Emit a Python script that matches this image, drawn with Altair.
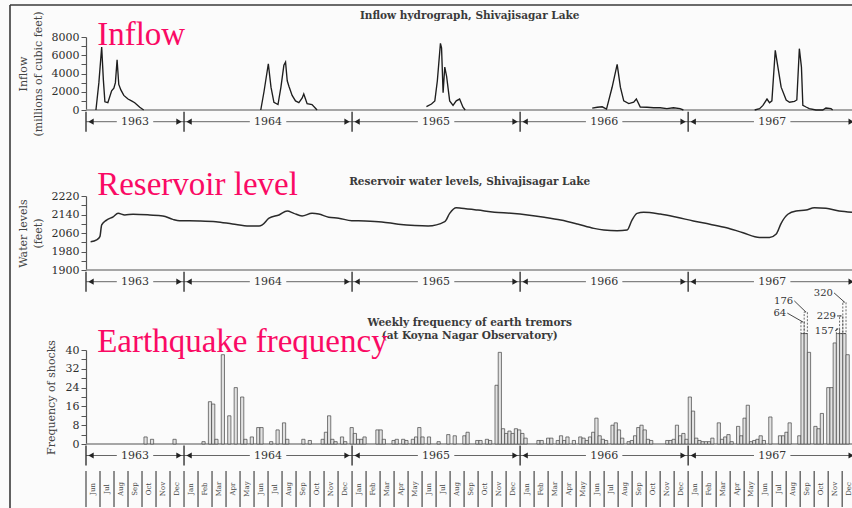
import altair as alt
import pandas as pd

# ---------------- data (x = months since 1 June 1963) ----------------
INFLOW_1963_M = [0.71, 0.92, 1.12, 1.24, 1.35, 1.56, 1.83, 1.99, 2.10, 2.22, 2.34, 2.49, 2.70, 3.00, 3.25, 3.48, 3.84, 4.12]
INFLOW_1963_V = [0, 3000, 6900, 3300, 900, 800, 2100, 2400, 3000, 5500, 2800, 2200, 1600, 1200, 1000, 800, 300, 0]
INFLOW_1964_M = [12.48, 12.71, 13.02, 13.21, 13.42, 13.71, 13.92, 14.13, 14.25, 14.37, 14.49, 14.72, 14.96, 15.20, 15.43, 15.55, 15.79, 16.14, 16.50]
INFLOW_1964_V = [0, 2000, 5070, 2500, 840, 600, 2500, 4900, 5250, 3200, 2600, 1600, 1000, 800, 1300, 1760, 700, 600, 0]
INFLOW_1965_M = [24.31, 24.67, 24.91, 25.09, 25.31, 25.39, 25.50, 25.62, 25.75, 25.97, 26.21, 26.44, 26.68, 26.92, 27.08]
INFLOW_1965_V = [360, 660, 1000, 3200, 7300, 6800, 1900, 4700, 3700, 1000, 500, 1000, 1200, 300, 0]
INFLOW_1966_M = [36.15, 36.51, 36.86, 37.17, 37.57, 37.93, 38.16, 38.40, 38.76, 39.11, 39.30, 39.58, 40.06, 40.53, 41.00, 41.48, 41.95, 42.42, 42.66]
INFLOW_1966_V = [200, 300, 350, 100, 2490, 4990, 2500, 1000, 700, 850, 1200, 330, 300, 250, 250, 150, 250, 150, 0]
INFLOW_1967_M = [47.75, 48.10, 48.34, 48.63, 48.81, 48.98, 49.22, 49.41, 49.64, 50.00, 50.24, 50.59, 50.76, 50.94, 51.09, 51.19, 51.42, 51.65, 52.13, 52.61, 52.84, 53.20, 53.32]
INFLOW_1967_V = [0, 150, 500, 1200, 800, 1000, 6530, 4700, 2500, 1100, 850, 950, 1100, 6720, 4700, 520, 330, 150, 0, 0, 220, 150, 0]

RES_M = [0.33, 0.76, 0.99, 1.12, 1.47, 1.94, 2.29, 2.77, 3.36, 4.55, 5.49, 6.20, 6.68, 8.10, 9.28, 10.46,
         11.65, 12.36, 12.59, 13.07, 13.78, 14.37, 14.84, 15.43, 16.14, 16.62, 17.33, 18.04, 18.98, 19.94,
         21.12, 22.30, 23.49, 24.43, 25.62, 25.97, 26.44, 26.80, 27.98, 29.17, 30.35, 31.53, 32.72, 33.90,
         35.09, 36.27, 36.98, 37.93, 38.64, 38.99, 39.35, 39.82, 41.00, 42.19, 43.37, 44.55, 45.74, 46.92,
         48.10, 48.81, 49.29, 49.64, 50.12, 50.71, 51.42, 52.01, 52.84, 53.78, 54.70]
RES_V = [2022, 2030, 2044, 2095, 2116, 2130, 2145, 2138, 2141, 2138, 2134, 2119, 2113, 2112, 2109, 2099,
         2090, 2090, 2095, 2124, 2138, 2155, 2145, 2134, 2145, 2142, 2128, 2124, 2113, 2112,
         2108, 2098, 2092, 2090, 2109, 2145, 2169, 2167, 2159, 2150, 2145, 2138, 2128, 2116,
         2099, 2080, 2073, 2070, 2073, 2116, 2145, 2150, 2142, 2128, 2112, 2098, 2083, 2061,
         2041, 2041, 2056, 2102, 2141, 2155, 2159, 2169, 2167, 2155, 2150]

# weekly earthquake counts (week index since 1 June 1963)
QUAKE_WEEK = [18, 20, 27, 36, 38, 39, 40, 42, 44, 46, 48, 49, 51, 53, 54, 57, 59, 61, 62, 67, 69, 73, 74, 75,
              76, 77, 79, 80, 82, 83, 84, 85, 86, 90, 91, 92, 95, 96, 98, 99, 101, 102, 103, 104, 106, 109,
              112, 114, 117, 118, 121, 122, 124, 125, 127, 128, 129, 130, 131, 132, 133, 134, 135, 136, 140,
              141, 143, 144, 146, 147, 148, 149, 151, 153, 154, 155, 156, 157, 158, 159, 160, 161, 163, 164,
              165, 166, 168, 169, 170, 171, 172, 173, 174, 175, 180, 181, 182, 183, 184, 185, 186, 187, 188,
              189, 190, 191, 192, 193, 194, 196, 197, 198, 199, 200, 202, 203, 204, 205, 206, 207, 208, 209,
              210, 212, 215, 216, 217, 218, 221, 222, 223, 224, 226, 227, 228, 230, 231, 232, 233, 234, 235, 236]
QUAKE_COUNT = [3, 2, 2, 1, 18, 17, 2, 38, 12, 24, 20, 2, 3, 7, 7, 1, 6, 9, 2, 2, 1.5, 2, 5, 12,
               2, 1, 3, 1, 7, 4.5, 2, 2, 3, 6, 6, 2, 1.5, 2, 2, 1.5, 2, 3, 7, 3, 3, 1,
               4, 3.5, 3.5, 5, 1.5, 1.5, 2, 1.5, 25, 39, 6.5, 4.5, 5.5, 4.5, 6.5, 6, 4.5, 2.5, 1.5,
               1.5, 2.5, 2.5, 1.5, 3.5, 1.5, 3, 1.5, 3, 2.5, 1.5, 3, 5, 11, 3.5, 2, 1.5, 8, 9,
               6, 2.5, 1, 1.5, 3.5, 7, 8, 6, 2, 1.5, 1.5, 1.5, 2, 8, 3.5, 4.5, 2, 20, 14,
               2.5, 1.5, 1, 1, 1, 2.5, 9, 2, 3, 4, 1, 7.5, 3.5, 11, 16.5, 1, 1.5, 2, 3.5,
               1.5, 11.5, 3.5, 3.5, 5, 9, 3.5, 64, 176, 39, 7.5, 6.5, 13, 24, 24, 43, 157, 229, 320, 38]

# off-scale weeks: value, top of the dashed continuation, label position
BIG_WEEK = [222, 223, 233, 234, 235]
BIG_VALUE = [64, 176, 157, 229, 320]
BIG_DASH_TOP = [52, 56.2, 49, 54.5, 60.4]
BIG_LABEL_X = [50.0, 50.5, 53.41, 53.55, 53.34]
BIG_LABEL_Y = [55.7, 60.9, 48.1, 54.5, 64.3]
CAP = 47

YEAR_EDGES = [0, 7, 19, 31, 43, 55]
YEARS = ["1963", "1964", "1965", "1966", "1967"]
MONTH_NAMES = ["Jan", "Feb", "Mar", "Apr", "May", "Jun", "Jul", "Aug", "Sep", "Oct", "Nov", "Dec"]
N_MONTHS = 55

# ---------------- styling ----------------
FONT = "DejaVu Serif"
PINK_FONT = "Liberation Serif"
PINK = "#fa0a64"
WEEK = 12 / 52.18
X_MAX = 54.7
XS = alt.Scale(domain=[0, X_MAX], nice=False, zero=False)


def yscale(domain, rng):
    return alt.Scale(domain=domain, range=rng, nice=False, zero=False)


Y_INFLOW = yscale([0, 8000], [110, 37])
Y_RES = yscale([1900, 2220], [270, 196])
Y_QUAKE = yscale([0, 40], [444, 350])


def axis(values, expr, title, pad):
    return alt.Axis(orient="left", values=values, format="d", labelExpr=expr, title=title,
                    grid=False, labelFont=FONT, labelFontSize=11, labelColor="#2e2e2e",
                    tickColor="#555", domainColor="#555", tickSize=5, labelPadding=2,
                    titleFont=FONT, titleFontSize=11, titleFontWeight="normal", titleColor="#444",
                    titlePadding=pad, titleLineHeight=15, labelOverlap=False, labelFlush=False,
                    domainWidth=1.2, tickWidth=1)


AX_INFLOW = axis(list(range(0, 8001, 1000)), "datum.value % 2000 === 0 ? datum.label : ''",
                 ["Inflow", "(millions of cubic feet)"], 8)
AX_RES = axis(list(range(1900, 2221, 40)), "(datum.value - 1900) % 80 === 0 ? datum.label : ''",
              ["Water levels", "(feet)"], 8)
AX_QUAKE = axis(list(range(0, 41, 4)), "datum.value % 8 === 0 ? datum.label : ''",
                "Frequency of shocks", 9)

TITLE_STYLE = dict(font=FONT, fontSize=10.5, fontWeight="bold", color="#3a3a3a", align="center",
                   baseline="alphabetic")

layers = []

# page frame
layers.append(alt.Chart(pd.DataFrame({"a": [0]})).mark_rule(color="#3a3a3a", strokeWidth=1.6).encode(
    x=alt.value(-76), y=alt.value(5), y2=alt.value(508)))
layers.append(alt.Chart(pd.DataFrame({"a": [0]})).mark_rule(color="#3a3a3a", strokeWidth=1.6).encode(
    x=alt.value(-76), x2=alt.value(766), y=alt.value(5)))


def baseline(ys, yv):
    df = pd.DataFrame({"x0": [0], "x1": [N_MONTHS], "y": [yv]})
    return alt.Chart(df).mark_rule(color="#8a8a8a", strokeWidth=1.6).encode(
        x=alt.X("x0:Q", scale=XS, axis=None), x2="x1:Q",
        y=alt.Y("y:Q", scale=ys, axis=None))


def texts(df, ys, **mk):
    return alt.Chart(df).mark_text(**mk).encode(
        x=alt.X("x:Q", scale=XS, axis=None), y=alt.Y("y:Q", scale=ys, axis=None), text="t:N")


# ---------- inflow ----------
inflow_parts = []
for yr, m, v in [(1963, INFLOW_1963_M, INFLOW_1963_V), (1964, INFLOW_1964_M, INFLOW_1964_V),
                 (1965, INFLOW_1965_M, INFLOW_1965_V), (1966, INFLOW_1966_M, INFLOW_1966_V),
                 (1967, INFLOW_1967_M, INFLOW_1967_V)]:
    inflow_parts.append(pd.DataFrame({"m": m, "v": v, "yr": yr}))
inflow_df = pd.concat(inflow_parts, ignore_index=True)

layers.append(baseline(Y_INFLOW, 0))
layers.append(alt.Chart(inflow_df).mark_line(color="#1e1e1e", strokeWidth=1.35).encode(
    x=alt.X("m:Q", scale=XS, axis=None),
    y=alt.Y("v:Q", scale=Y_INFLOW, axis=AX_INFLOW),
    detail="yr:N"))
layers.append(texts(pd.DataFrame({"x": [27.4], "y": [9940], "t": ["Inflow hydrograph, Shivajisagar Lake"]}),
                    Y_INFLOW, **TITLE_STYLE))
layers.append(texts(pd.DataFrame({"x": [0.8], "y": [7123], "t": ["Inflow"]}),
                    Y_INFLOW, font=PINK_FONT, fontSize=33, color=PINK, align="left", baseline="alphabetic"))

# ---------- reservoir ----------
res_df = pd.DataFrame({"m": RES_M, "v": RES_V})
layers.append(baseline(Y_RES, 1900))
layers.append(alt.Chart(res_df).mark_line(color="#2a2a2a", strokeWidth=1.5, interpolate="monotone").encode(
    x=alt.X("m:Q", scale=XS, axis=None),
    y=alt.Y("v:Q", scale=Y_RES, axis=AX_RES)))
layers.append(texts(pd.DataFrame({"x": [27.4], "y": [2267.6], "t": ["Reservoir water levels, Shivajisagar Lake"]}),
                    Y_RES, **TITLE_STYLE))
layers.append(texts(pd.DataFrame({"x": [0.8], "y": [2224.3], "t": ["Reservoir level"]}),
                    Y_RES, font=PINK_FONT, fontSize=33, color=PINK, align="left", baseline="alphabetic"))

# ---------- earthquakes ----------
q = pd.DataFrame({"w": QUAKE_WEEK, "v": QUAKE_COUNT})
q["x0"] = q["w"] * WEEK
q["x1"] = (q["w"] + 1) * WEEK
q["shown"] = q["v"].clip(upper=CAP)
q["b"] = 0
layers.append(baseline(Y_QUAKE, 0))
layers.append(alt.Chart(q).mark_bar(fill="#e2e2e2", stroke="#444", strokeWidth=0.7).encode(
    x=alt.X("x0:Q", scale=XS, axis=None), x2="x1:Q",
    y=alt.Y("shown:Q", scale=Y_QUAKE, axis=AX_QUAKE), y2="b:Q"))

big = pd.DataFrame({"w": BIG_WEEK, "v": BIG_VALUE, "top": BIG_DASH_TOP,
                    "lx": BIG_LABEL_X, "ly": BIG_LABEL_Y})
big["x0"] = big["w"] * WEEK
big["x1"] = (big["w"] + 1) * WEEK
big["xc"] = (big["w"] + 0.5) * WEEK
big["cap"] = CAP
big["t"] = big["v"].astype(str)
big["ax"] = big["lx"] + 0.08
layers.append(alt.Chart(big).mark_bar(fill="#e2e2e2", fillOpacity=0, stroke="#444", strokeWidth=0.8,
                                      strokeDash=[2, 1.5]).encode(
    x=alt.X("x0:Q", scale=XS, axis=None), x2="x1:Q",
    y=alt.Y("cap:Q", scale=Y_QUAKE, axis=None), y2="top:Q"))
layers.append(alt.Chart(big).mark_rule(color="#333", strokeWidth=0.9).encode(
    x=alt.X("ax:Q", scale=XS, axis=None), x2="xc:Q",
    y=alt.Y("ly:Q", scale=Y_QUAKE, axis=None), y2="top:Q"))
layers.append(alt.Chart(big).mark_text(font=FONT, fontSize=10, color="#333", align="right",
                                       baseline="middle").encode(
    x=alt.X("lx:Q", scale=XS, axis=None), y=alt.Y("ly:Q", scale=Y_QUAKE, axis=None), text="t:N"))
layers.append(texts(pd.DataFrame({"x": [27.4, 27.4], "y": [50.2, 44.7],
                                  "t": ["Weekly frequency of earth tremors", "(at Koyna Nagar Observatory)"]}),
                    Y_QUAKE, **TITLE_STYLE))
layers.append(texts(pd.DataFrame({"x": [0.8], "y": [39.3], "t": ["Earthquake frequency"]}),
                    Y_QUAKE, font=PINK_FONT, fontSize=33, color=PINK, align="left", baseline="alphabetic"))

# ---------- year bands ----------
GAP = 1.3
seg_rows, arrow_rows, label_rows = [], [], []
for i, yr in enumerate(YEARS):
    s, e = YEAR_EDGES[i], YEAR_EDGES[i + 1]
    c = (s + e) / 2
    seg_rows += [{"x0": s, "x1": c - GAP, "y": 0}, {"x0": c + GAP, "x1": e, "y": 0}]
    arrow_rows += [{"x": s + 0.36, "y": 0, "shape": "triangle-left"},
                   {"x": e - 0.36, "y": 0, "shape": "triangle-right"}]
    label_rows.append({"x": c, "y": 0, "t": yr})
seg_df = pd.DataFrame(seg_rows)
arrow_df = pd.DataFrame(arrow_rows)
label_df = pd.DataFrame(label_rows)
edge_df = pd.DataFrame({"x": YEAR_EDGES, "y0": -1, "y1": 1})


def band(center):
    ys = yscale([-1, 1], [center + 10, center - 10])
    out = []
    out.append(alt.Chart(seg_df).mark_rule(color="#666", strokeWidth=1).encode(
        x=alt.X("x0:Q", scale=XS, axis=None), x2="x1:Q", y=alt.Y("y:Q", scale=ys, axis=None)))
    out.append(alt.Chart(edge_df).mark_rule(color="#333", strokeWidth=1.4).encode(
        x=alt.X("x:Q", scale=XS, axis=None), y=alt.Y("y0:Q", scale=ys, axis=None), y2="y1:Q"))
    for shp in ["triangle-left", "triangle-right"]:
        out.append(alt.Chart(arrow_df[arrow_df["shape"] == shp]).mark_point(
            shape=shp, filled=True, color="#222", size=38, opacity=1).encode(
            x=alt.X("x:Q", scale=XS, axis=None), y=alt.Y("y:Q", scale=ys, axis=None)))
    out.append(alt.Chart(label_df).mark_text(font=FONT, fontSize=11, color="#333", baseline="middle").encode(
        x=alt.X("x:Q", scale=XS, axis=None), y=alt.Y("y:Q", scale=ys, axis=None), text="t:N"))
    return out


layers += band(121.7)
layers += band(281.7)
layers += band(455.5)

# ---------- month row ----------
YM = yscale([0, 1], [507, 471])
month_df = pd.DataFrame({"x": [i + 0.5 for i in range(N_MONTHS)], "y": 0.5,
                         "t": [MONTH_NAMES[(5 + i) % 12] for i in range(N_MONTHS)]})
sep_df = pd.DataFrame({"x": list(range(N_MONTHS + 1)), "y0": 0, "y1": 1})
layers.append(alt.Chart(sep_df).mark_rule(color="#555", strokeWidth=1.3).encode(
    x=alt.X("x:Q", scale=XS, axis=None), y=alt.Y("y0:Q", scale=YM, axis=None), y2="y1:Q"))
layers.append(alt.Chart(month_df).mark_text(font=FONT, fontSize=7, color="#444", angle=270,
                                            baseline="middle", align="center").encode(
    x=alt.X("x:Q", scale=XS, axis=None), y=alt.Y("y:Q", scale=YM, axis=None), text="t:N"))

chart = alt.layer(*layers).resolve_scale(y="independent").properties(
    width=766, height=508,
    autosize=alt.AutoSizeParams(type="none"),
    padding={"left": 86, "right": 0, "top": 0, "bottom": 0},
    background="#fbfbfb",
).configure_view(stroke=None)

chart.save("out.html", embed_options={"renderer": "svg", "actions": False})
